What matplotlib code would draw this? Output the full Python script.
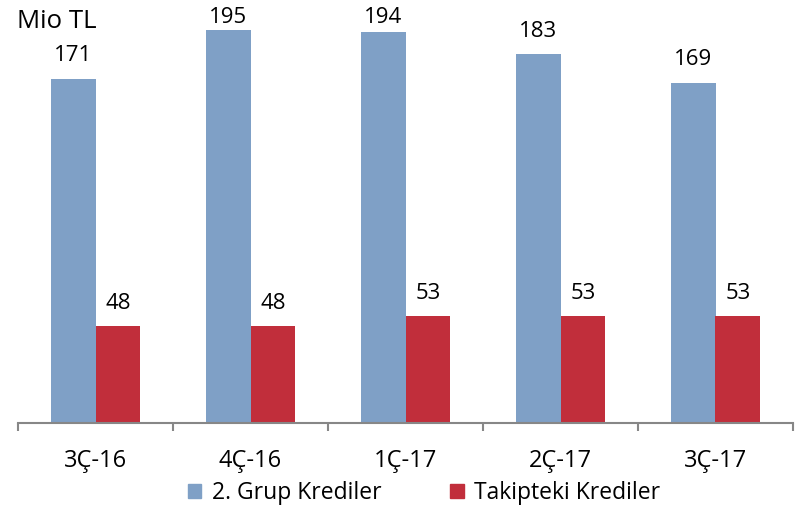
import matplotlib
matplotlib.use("Agg")
import matplotlib.pyplot as plt
import numpy as np
from matplotlib.patches import Patch

categories = ["3Ç-16", "4Ç-16", "1Ç-17", "2Ç-17", "3Ç-17"]
grup2 = [171, 195, 194, 183, 169]
takip = [48, 48, 53, 53, 53]
series_names = ["2. Grup Krediler", "Takipteki Krediler"]
unit_label = "Mio TL"

blue = "#7FA0C6"
red = "#C12E3B"
axis_gray = "#878787"

plt.rcParams['font.family'] = ['Open Sans', 'DejaVu Sans']

fig = plt.figure(figsize=(8.03, 5.12), dpi=100)
ax = fig.add_axes([18/803, 89/512, 775/803, 423/512])

x = np.arange(len(categories))
w = 0.29
b1 = ax.bar(x - 0.142, grup2, width=w, color=blue)
b2 = ax.bar(x + 0.145, takip, width=w, color=red)

ymax = 210
gap = 8.5
max_bottom = 198.5
for bars, vals in ((b1, grup2), (b2, takip)):
    for rect, v in zip(bars, vals):
        ax.text(rect.get_x() + rect.get_width()/2, min(v + gap, max_bottom), str(v),
                ha="center", va="baseline", fontsize=16)

ax.set_xlim(-0.5, len(categories) - 0.5)
ax.set_ylim(0, ymax)
ax.set_yticks([])
for s in ["top", "right", "left"]:
    ax.spines[s].set_visible(False)
ax.spines["bottom"].set_color(axis_gray)
ax.spines["bottom"].set_linewidth(1.5)

ax.set_xticks(np.arange(len(categories) + 1) - 0.5, minor=False)
ax.set_xticklabels([])
ax.tick_params(axis="x", which="major", length=6, width=1.5, color=axis_gray, direction="out")
ax.set_xticks(x, minor=True)
ax.set_xticklabels(categories, minor=True, fontsize=17)
ax.tick_params(axis="x", which="minor", length=0, pad=19)

fig.text(17/803, 1 - 22/512, unit_label, fontsize=18.5, ha="left", va="center")

handles = [Patch(color=blue), Patch(color=red)]
fig.legend(handles, series_names, loc="center", bbox_to_anchor=(424/803, 1 - 493/512),
           ncol=2, frameon=False, fontsize=16.5, handlelength=0.6, handleheight=0.6,
           handletextpad=0.45, columnspacing=3.0, borderaxespad=0)

fig.savefig("out.png", dpi=100)
